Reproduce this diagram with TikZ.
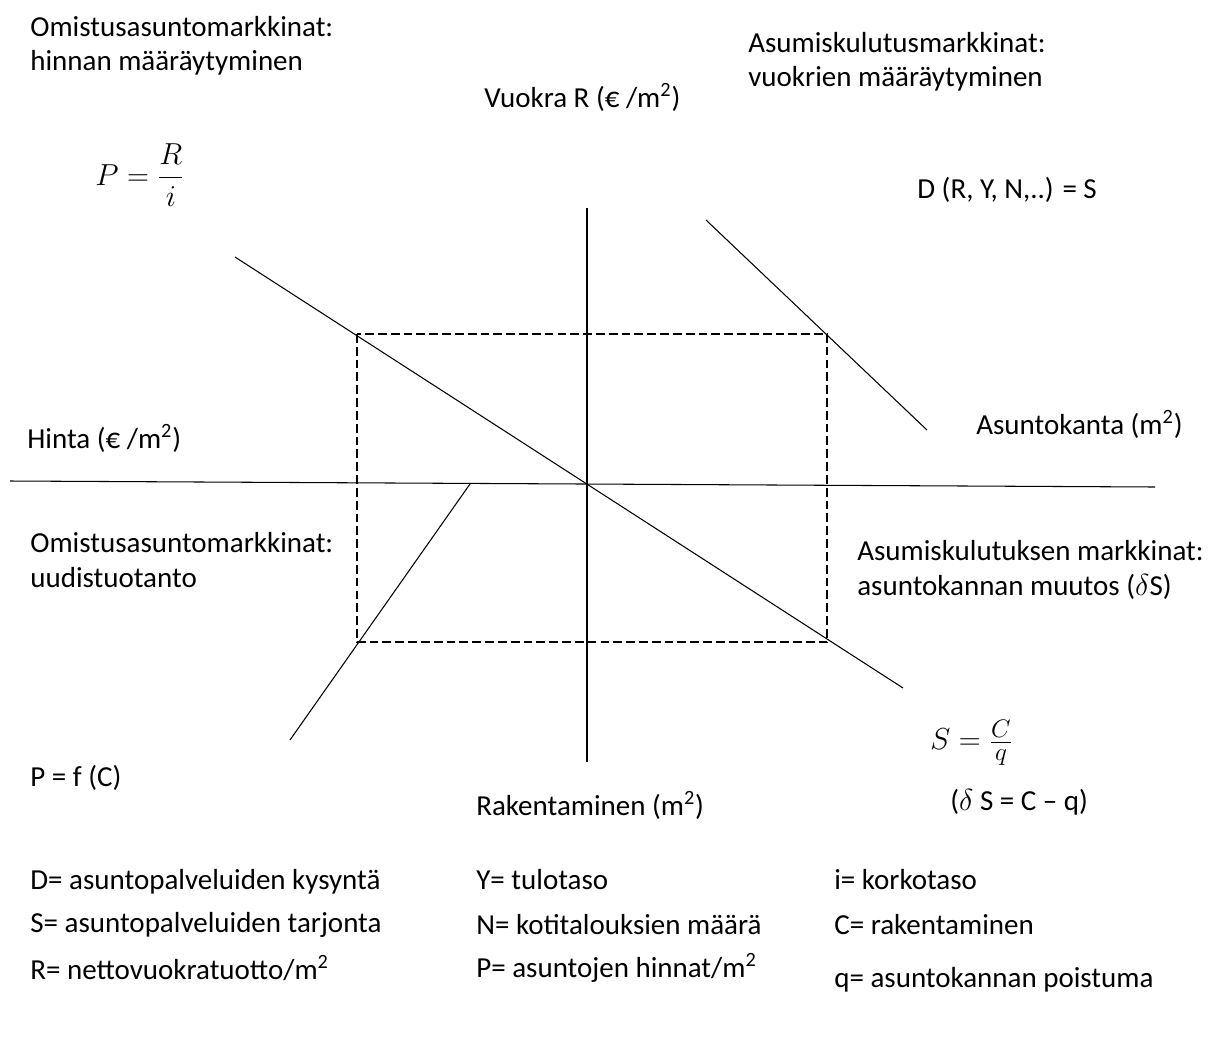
\documentclass[tikz,border=0pt]{standalone}
\usepackage{amsmath,amssymb}
\usepackage{fontspec}
\setmainfont{Carlito}
\usepackage{tikz}
\usetikzlibrary{calc,positioning}

\begin{document}
\begin{tikzpicture}[x=0.02cm,y=-0.02cm,font=\fontsize{16.5}{19.6}\selectfont]
            \tikzstyle{lbl} = [anchor=west,align=left,inner sep=0pt]
            \tikzstyle{eq} = [lbl,font=\fontsize{19}{22}\selectfont]
            \tikzstyle{curve} = [line width=0.6pt]
            \tikzstyle{box} = [line width=1.1pt,dash pattern=on 5pt off 2.3pt]

            \useasboundingbox (0,0) rectangle (1208,1042);

            % axes and curves
            \coordinate (hl) at (10,481);
            \coordinate (hr) at (1155,487);
            \coordinate (vt) at (587,208);
            \coordinate (vb) at (587,762);
            \coordinate (pt) at (235,257);
            \coordinate (pb) at (903,688);
            \coordinate (dt) at (706,220);
            \coordinate (db) at (927,430);
            \coordinate (ct) at (470,484);
            \coordinate (cb) at (290,740);
            \coordinate (b1) at (357,334);
            \coordinate (b2) at (827,642);

            \draw[curve] (hl) -- (hr);
            \draw[curve] (vt) -- (vb);
            \draw[curve] (pt) -- (pb);
            \draw[curve] (dt) -- (db);
            \draw[curve] (ct) -- (cb);
            \draw[box] (b1) rectangle (b2);

            % quadrant texts
            \node[lbl] (own) at (30,46) {Omistusasuntomarkkinat:\\hinnan määräytyminen};
            \node[lbl] (rent) at (484,97) {Vuokra R (€ /m\textsuperscript{2})};
            \node[lbl] (cons) at (748,62) {Asumiskulutusmarkkinat:\\vuokrien määräytyminen};
            \node[eq] (price) at (95,175) {$P=\dfrac{R}{i}$};
            \node[lbl] (demand) at (917,190) {D (R, Y, N,..) = S};
            \node[lbl] (hinta) at (27,438) {Hinta (€ /m\textsuperscript{2})};
            \node[lbl] (stock) at (976,424) {Asuntokanta (m\textsuperscript{2})};
            \node[lbl] (new) at (30,560) {Omistusasuntomarkkinat:\\uudistuotanto};
            \node[lbl] (change) at (857,570) {Asumiskulutuksen markkinat:\\asuntokannan muutos ($\delta$S)};
            \node[eq] (stockeq) at (930,743) {$S=\frac{C}{q}$};
            \node[lbl] (pfc) at (30,778) {P = f (C)};
            \node[lbl] (build) at (476,805) {Rakentaminen (m\textsuperscript{2})};
            \node[lbl] (delta) at (950,802) {($\delta$ S = C – q)};

            % legend
            \node[lbl] (lD) at (30,882) {D= asuntopalveluiden kysyntä};
            \node[lbl] (lS) at (30,925) {S= asuntopalveluiden tarjonta};
            \node[lbl] (lR) at (30,968) {R= nettovuokratuotto/m\textsuperscript{2}};
            \node[lbl] (lY) at (476,880) {Y= tulotaso};
            \node[lbl] (lN) at (476,925) {N= kotitalouksien määrä};
            \node[lbl] (lP) at (476,968) {P= asuntojen hinnat/m\textsuperscript{2}};
            \node[lbl] (li) at (834,880) {i= korkotaso};
            \node[lbl] (lC) at (834,925) {C= rakentaminen};
            \node[lbl] (lq) at (834,980) {q= asuntokannan poistuma};
\end{tikzpicture}
\end{document}
